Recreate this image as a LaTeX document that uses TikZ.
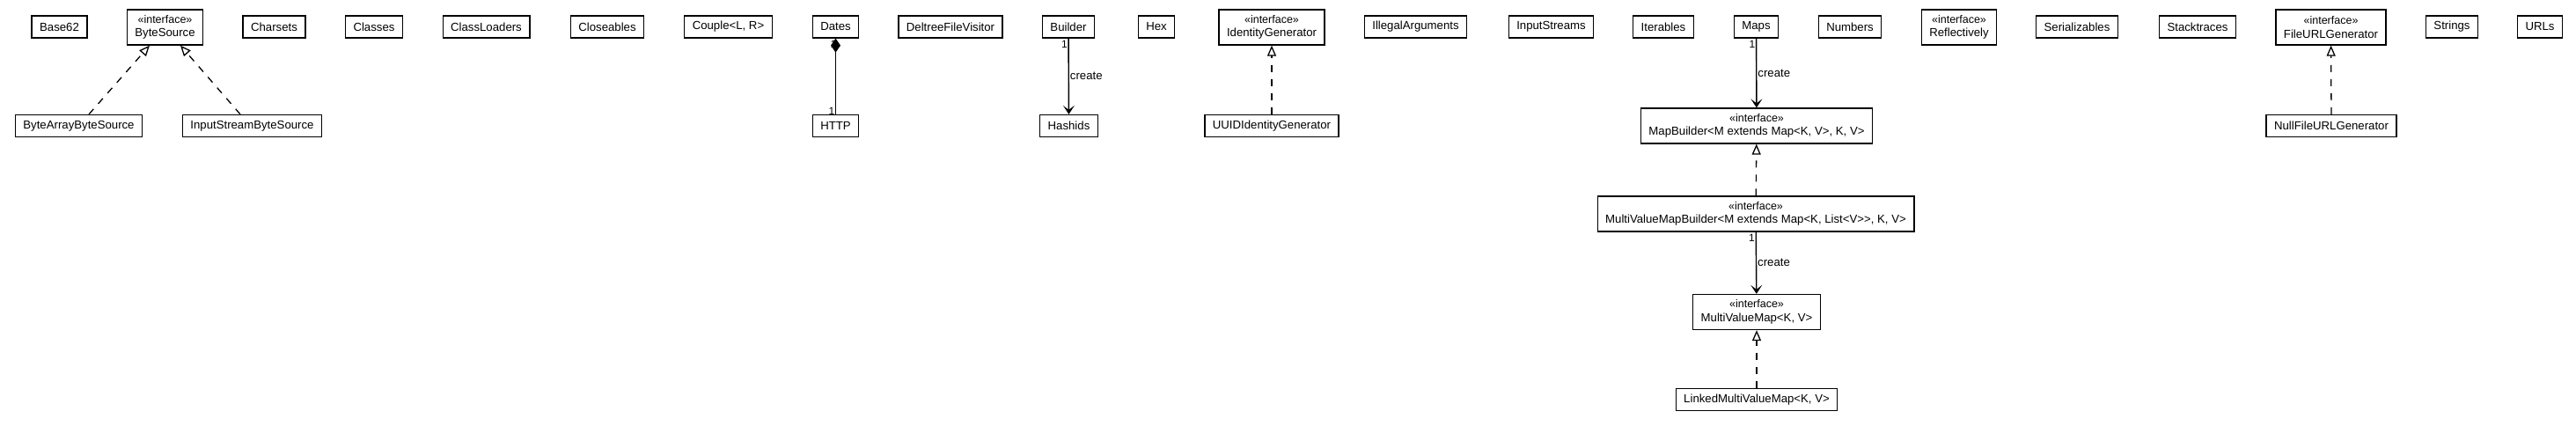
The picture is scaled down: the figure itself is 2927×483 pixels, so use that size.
\documentclass[tikz,border=0pt]{standalone}
\usepackage{fontspec}
\setmainfont{Liberation Sans}
\usetikzlibrary{arrows.meta}

\tikzset{
  cls/.style={draw, line width=1.3pt, inner xsep=9pt, inner ysep=0pt, minimum height=25pt, font=\fontsize{13.2}{15.5}\selectfont},
  iface/.style={cls, align=center, minimum height=40pt},
  realize/.style={line width=1.3pt, dash pattern=on 8pt off 8pt, -{Triangle[open, length=12pt, width=10pt]}},
  create/.style={line width=1.4pt, -{Stealth[length=10pt, width=13pt, inset=5pt]}},
  owns/.style={line width=1.3pt, {Diamond[length=16pt, width=11pt]}-},
  mult/.style={inner sep=0pt, font=\fontsize{12}{12}\selectfont},
  lbl/.style={inner sep=1pt, font=\fontsize{13.2}{15.5}\selectfont}
}
\newcommand{\stereo}{{\fontsize{12.5}{15.5}\selectfont «interface»}}

\begin{document}
\begin{tikzpicture}[x=1pt, y=-1pt]
                \useasboundingbox (0,0) rectangle (2927,483);
                % top row
                \node[cls] (base62) at (67.5,30.5) {Base62};
                \node[iface] (bsrc) at (187.5,31) {\stereo\\ByteSource};
                \node[cls] (charsets) at (311.5,30.5) {Charsets};
                \node[cls] (classes) at (425,30.5) {Classes};
                \node[cls] (loaders) at (552.5,30.5) {ClassLoaders};
                \node[cls] (closeables) at (690,30.5) {Closeables};
                \node[cls] (couple) at (827.5,30.5) {Couple<L, R>};
                \node[cls] (dates) at (949.5,30.5) {Dates};
                \node[cls] (deltree) at (1080,30.5) {DeltreeFileVisitor};
                \node[cls] (builder) at (1214,30.5) {Builder};
                \node[cls] (hex) at (1314,30.5) {Hex};
                \node[iface] (idgen) at (1445,31) {\stereo\\IdentityGenerator};
                \node[cls] (illegal) at (1608.5,30.5) {IllegalArguments};
                \node[cls] (istreams) at (1762.5,30.5) {InputStreams};
                \node[cls] (iterables) at (1890,30.5) {Iterables};
                \node[cls] (maps) at (1995.5,30.5) {Maps};
                \node[cls] (numbers) at (2102,30.5) {Numbers};
                \node[iface] (reflect) at (2226,31) {\stereo\\Reflectively};
                \node[cls] (serial) at (2360,30.5) {Serializables};
                \node[cls] (stack) at (2497,30.5) {Stacktraces};
                \node[iface] (furlgen) at (2648.5,31) {\stereo\\FileURLGenerator};
                \node[cls] (strings) at (2786,30.5) {Strings};
                \node[cls] (urls) at (2886,30.5) {URLs};
                % lower rows
                \node[cls] (bab) at (89.5,143) {ByteArrayByteSource};
                \node[cls] (isbs) at (286.5,143) {InputStreamByteSource};
                \node[cls] (http) at (949.5,143) {HTTP};
                \node[cls] (hashids) at (1214.5,143) {Hashids};
                \node[cls] (uuid) at (1445,143) {UUIDIdentityGenerator};
                \node[iface] (mapb) at (1996,143) {\stereo\\MapBuilder<M extends Map<K, V>, K, V>};
                \node[cls] (nullfurl) at (2649,143) {NullFileURLGenerator};
                \node[iface] (mvmb) at (1995,243) {\stereo\\MultiValueMapBuilder<M extends Map<K, List<V>\kern0pt>, K, V>};
                \node[iface] (mvm) at (1996,354.5) {\stereo\\MultiValueMap<K, V>};
                \node[cls] (lmvm) at (1996,454) {LinkedMultiValueMap<K, V>};
                % multiplicities
                \node[mult, anchor=north east] (mdates) at ([xshift=1pt, yshift=-2pt]dates.south) {1};
                \node[mult, anchor=south east] (mhttp) at ([xshift=-1pt, yshift=-1pt]http.north) {1};
                \node[mult, anchor=north east] (mbuilder) at ([xshift=-1pt, yshift=-2pt]builder.south) {1};
                \node[mult, anchor=north east] (mmaps) at ([xshift=-1pt, yshift=-2pt]maps.south) {1};
                \node[mult, anchor=north east] (mmvmb) at ([xshift=-1pt, yshift=-2pt]mvmb.south) {1};
                % connectors
                \draw[realize] ([xshift=11.5pt]bab.north) -- ([xshift=-17.5pt]bsrc.south);
                \draw[realize] ([xshift=-13.5pt]isbs.north) -- ([xshift=17.5pt]bsrc.south);
                \draw[owns] (dates) -- (http);
                \draw[create] (builder) -- node[lbl, right]{create} (hashids);
                \draw[realize] (uuid) -- (idgen);
                \draw[create] (maps) -- node[lbl, right]{create} (mapb);
                \draw[realize] (mvmb) -- (mapb);
                \draw[create] (mvmb) -- node[lbl, right]{create} (mvm);
                \draw[realize] (lmvm) -- (mvm);
                \draw[realize] (nullfurl) -- (furlgen);
            \end{tikzpicture}
\end{document}
